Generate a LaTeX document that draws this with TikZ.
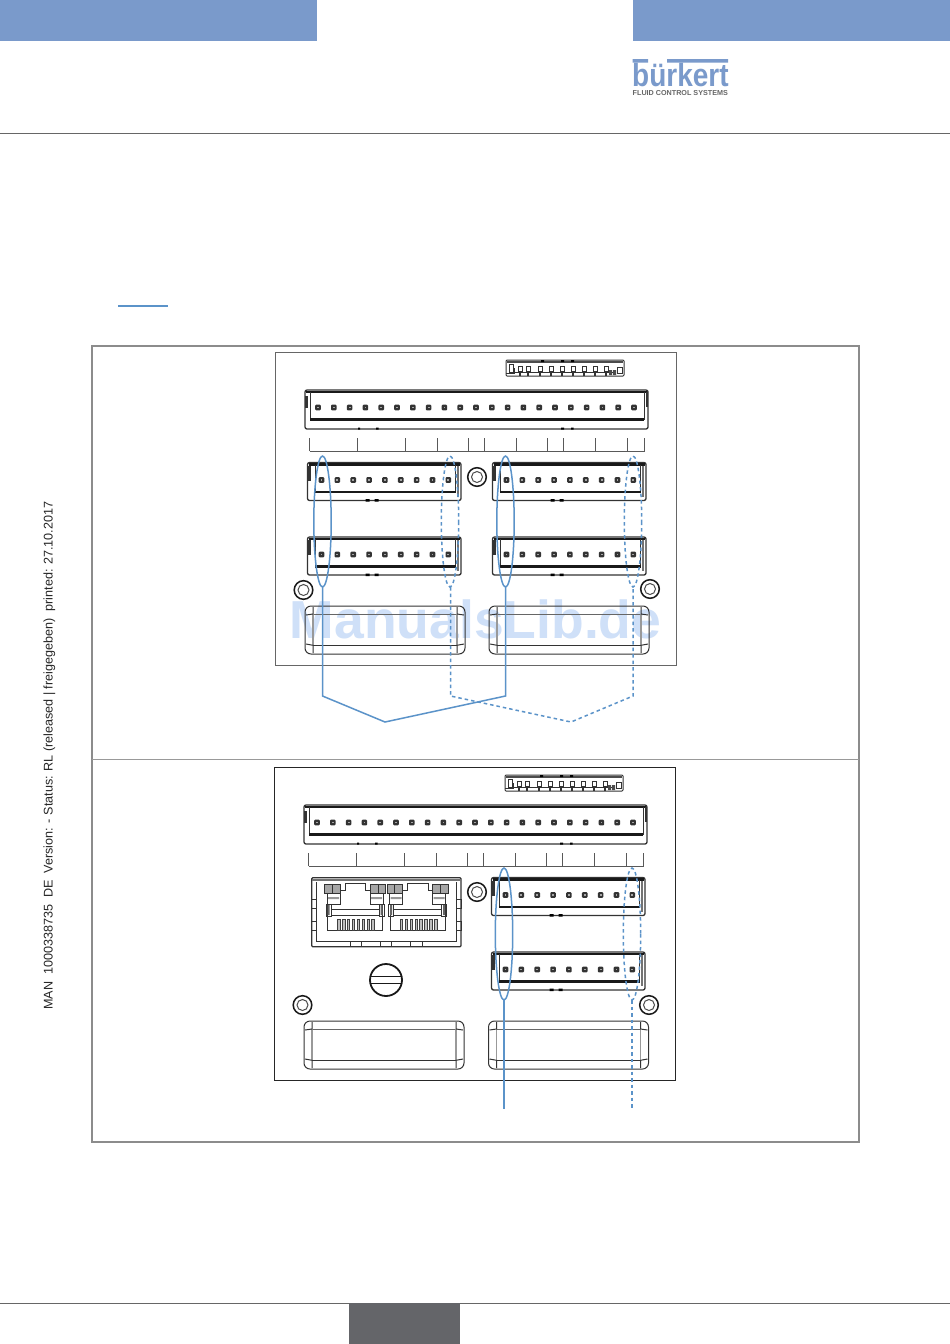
\documentclass[tikz,border=0pt]{standalone}
\usepackage{fontspec}
\setmainfont{Liberation Sans}
\definecolor{headblue}{HTML}{7A9ACB}
\definecolor{linkblue}{HTML}{5B93C9}
\definecolor{markgrey}{HTML}{646569}
\definecolor{wmblue}{HTML}{CFE0F8}
\tikzset{
	part/.style={draw=black!80, line width=1pt},
	heavy/.style={draw=black!90, line width=2.8pt},
	tick/.style={draw=black!65, line width=1pt},
	frameline/.style={draw=black!45, line width=2pt},
	solidline/.style={draw=linkblue, line width=1.5pt},
	dashline/.style={draw=linkblue, line width=1.5pt, dash pattern=on 3.5pt off 3pt},
}
% one pin of a terminal
\newcommand{\pin}[2]{
	\fill[black!80, rounded corners=1pt] (#1-2.8,#2-2.8) rectangle (#1+2.8,#2+2.8);
	\fill[black!35] (#1-0.9,#2-0.9) rectangle (#1+0.9,#2+0.9);
}
% 9-pin terminal, #1 #2 = upper left corner
\newcommand{\smallconn}[2]{
	\begin{scope}[shift={(#1,#2)}]
		\draw[part, line width=1.3pt, rounded corners=2pt] (0,0) rectangle (153.5,38);
		\draw[heavy] (1,2) -- (152.5,2);
		\draw[part] (7.5,2) -- (7.5,29.5) (148,2) -- (148,29.5);
		\draw[heavy, line width=2.4pt] (7.5,29.5) -- (148,29.5);
		\fill[black!80] (0,3) rectangle (3.5,18);
		\draw[draw=black!55, line width=1.4pt] (150.5,3) -- (150.5,34);
		\fill[black] (58,36.5) rectangle (62,39) (67,36.5) rectangle (71,39);
		\foreach \i in {0,...,8} {\pin{14+15.85*\i}{17.5}}
	\end{scope}
}
% socket head screw
\newcommand{\screw}[2]{
	\draw[black!90, line width=1.5pt] (#1,#2) circle (9.3);
	\draw[black!70, line width=1pt] (#1,#2) circle (5.5);
}
% grip below the terminals
\newcommand{\grip}[2]{
	\begin{scope}[shift={(#1,#2)}]
		\draw[part, rounded corners=6pt] (0,0) rectangle (160,48);
		\draw[draw=black!60, line width=1pt] (8,8) -- (152,8);
		\draw[part] (8,39.3) -- (152,39.3);
		\draw[draw=black!40, line width=1.2pt] (8,8) -- (8,39.3) (152,8) -- (152,39.3);
		\draw[part] (8,1) -- (8,8) -- (1,9) (152,1) -- (152,8) -- (159,9);
		\draw[part] (8,47) -- (8,39.3) -- (1,38) (152,47) -- (152,39.3) -- (159,38);
	\end{scope}
}
% dip switch, long terminal and tick row
\newcommand{\toprow}{
	\draw[part, rounded corners=1pt] (506,360) rectangle (624,376);
	\draw[black!70, line width=2.4pt] (507,362) -- (623,362);
	\fill[black] (541,360) rectangle (544,362) (561,360) rectangle (564,362) (571,360) rectangle (574,362);
	\draw[part] (509,364) rectangle (513,372);
	\draw[part] (506,373) -- (514,373) -- (514,368);
	\foreach \x in {520,528,540,551,562,573,584,595,606} {
		\draw[black!80, line width=0.9pt] (\x-2,366) rectangle (\x+2,371);
		\draw[black!80, line width=1.4pt] (\x,371) -- (\x,376);
	}
	\draw[black!80, line width=0.8pt] (514,372) -- (616,372);
	\fill[black!70] (609,370) rectangle (612,375) (613,370) rectangle (616,375);
	\draw[part] (617,367) rectangle (622,373);
	\draw[part, line width=1.3pt, rounded corners=2pt] (305,390) rectangle (648,429);
	\draw[heavy] (306,392) -- (647,392);
	\draw[part] (310,392) -- (310,419.5) (644,392) -- (644,419.5);
	\draw[heavy, line width=2.4pt] (310,419.5) -- (644,419.5);
	\fill[black!80] (305,396) rectangle (307.5,408);
	\fill[black!80] (645.5,392) rectangle (648,407);
	\fill[black] (358,427.5) rectangle (360,429.5) (376,427.5) rectangle (378.5,429.5) (561,427.5) rectangle (564,429.5) (571,427.5) rectangle (573.5,429.5);
	\foreach \i in {0,...,20} {\pin{318+15.8*\i}{407.5}}
	\draw[tick] (309.5,451) -- (644.5,451);
	\foreach \x in {309.5,357.5,405.5,437,468.5,484.5,516.5,547.5,563.5,595.5,627,644.5}
		\draw[tick] (\x,438) -- (\x,451);
}
% one half of the double network socket
\newcommand{\netport}[1]{
	\begin{scope}[shift={(#1,0)}]
		\draw[part] (327.5,904) -- (327.5,930) -- (382.5,930) -- (382.5,904);
		\fill[black!35] (325,884.5) rectangle (340,893) (370,884.5) rectangle (385.5,893);
		\draw[part] (324.5,884.5) rectangle (340,893);
		\draw[part] (370,884.5) rectangle (385.5,893);
		\draw[part] (332,884.5) -- (332,893) (378,884.5) -- (378,893);
		\draw[part] (340,890) -- (345,890) -- (345,883.5) -- (365.5,883.5) -- (365.5,890) -- (370,890);
		\draw[part] (327,893) rectangle (340,904);
		\draw[part] (370,893) rectangle (383,904);
		\fill[black!40] (328,897) rectangle (339,899) (371,897) rectangle (382,899);
		\draw[part] (326,904) rectangle (331,916) (379,904) rectangle (384,916);
		\fill[black!60] (327.5,905) rectangle (329.5,915) (380.5,905) rectangle (382.5,915);
		\draw[part] (331,909.5) -- (379,909.5) (331,915.5) -- (379,915.5);
		\foreach \i in {0,...,7} {
			\draw[black!75, line width=0.8pt, fill=black!25] (337.5+4.9*\i,919) rectangle (340+4.9*\i,930);
		}
	\end{scope}
}
\begin{document}
\begin{tikzpicture}[x=1pt, y=-1pt]
	\useasboundingbox (0,0) rectangle (950,1344);
	\fill[white] (0,0) rectangle (950,1344);

	% page head
	\fill[headblue] (0,0) rectangle (316.5,40.5);
	\fill[headblue] (633,0) rectangle (950,40.5);
	\draw[draw=black!60, line width=1pt] (0,133.5) -- (950,133.5);
	\fill[headblue] (632.5,59) rectangle (648,62.5) (667,59) rectangle (728,62.5);
	\node[text=headblue, anchor=base west, inner sep=0pt, font=\fontsize{28}{28}\selectfont\bfseries] (logotext) at (632,86.5) {\scalebox{1}[1.15]{bürkert}};
	\node[text=black!60, anchor=base west, inner sep=0pt, font=\fontsize{7.2}{8}\selectfont\bfseries] (logosub) at (632.5,95) {FLUID CONTROL SYSTEMS};
	\fill[linkblue] (118,304.5) rectangle (168,306.5);

	% margin text
	\node[rotate=90, anchor=west, inner sep=0pt, text=black!85, font=\fontsize{12.6}{13}\selectfont] (margintext) at (49.5,1010)
		{MAN\ \ 1000338735\ \ DE\ \ Version: - Status: RL (released | freigegeben)\ \ printed: 27.10.2017};

	% page foot
	\draw[draw=black!60, line width=1pt] (0,1303) -- (950,1303);
	\fill[markgrey] (349,1303) rectangle (460,1344);

	% outer frame
	\draw[frameline] (92,345.5) rectangle (859,1141.5);
	\draw[draw=black!40, line width=1pt] (92,759.5) -- (859,759.5);

	\node[text=wmblue, anchor=base, inner sep=0pt, font=\fontsize{53.5}{54}\selectfont\bfseries] (watermark) at (475.5,638) {ManualsLib.de};

	% upper panel
	\draw[draw=black!60, line width=1pt] (275,352) rectangle (676,665.5);
	\toprow
	\smallconn{307.5}{462.5}
	\smallconn{492.5}{462.5}
	\smallconn{307.5}{537}
	\smallconn{492.5}{537}
	\screw{477}{477}
	\screw{303.5}{590}
	\screw{650}{589}
	\grip{305}{606}
	\grip{489}{606}

	\draw[solidline] (322.5,521.5) ellipse (8.7 and 65.5);
	\draw[solidline] (505.5,521.5) ellipse (8.7 and 65.5);
	\draw[dashline] (450,521.5) ellipse (8.7 and 65.5);
	\draw[dashline] (633,521.5) ellipse (8.7 and 65.5);

	\coordinate (upA) at (322.5,587);
	\coordinate (upB) at (505.5,587);
	\coordinate (upC) at (450.5,587);
	\coordinate (upD) at (633,587);
	\coordinate (upE) at (385,722);
	\coordinate (upF) at (571,722);
	\draw[dashline] (upC) -- (450.5,696) -- (upF) -- (633,696) -- (upD);
	\draw[solidline] (upA) -- (322.5,696) -- (upE) -- (505.5,696) -- (upB);

	% lower panel
	\draw[draw=black!85, line width=0.9pt] (274,767) rectangle (675,1080.5);
	\begin{scope}[shift={(-1,415)}]
		\toprow
	\end{scope}
	\smallconn{491.5}{877.5}
	\smallconn{491.5}{952}
	\screw{477}{892}
	\screw{302.5}{1005}
	\screw{649}{1005}
	\grip{304}{1021}
	\grip{488.5}{1021}

	% network socket
	\draw[part, line width=1.2pt, rounded corners=1pt] (311.7,877.7) rectangle (461,946.7);
	\draw[black!55, line width=2.4pt] (312,880) -- (461,880);
	\draw[part] (316.5,882) -- (316.5,941.5) -- (456.5,941.5) -- (456.5,882);
	\draw[part] (311.7,899) rectangle (316.5,908) (311.7,921.5) rectangle (316.5,930);
	\draw[part] (456.5,899) rectangle (461,908) (456.5,921.5) rectangle (461,930);
	\draw[part] (350,941.5) -- (350,946.7) (361,941.5) -- (361,946.7) (350,941.5) -- (362,941.5);
	\draw[part] (380,941.5) -- (380,946.7) (391,941.5) -- (391,946.7) (380,941.5) -- (392,941.5);
	\draw[part] (410,941.5) -- (410,946.7) (422,941.5) -- (422,946.7) (410,941.5) -- (422,941.5);
	\netport{0}
	\netport{62.7}

	% slot screw
	\draw[black!90, line width=1.8pt] (386,980) circle (16);
	\draw[black!90, line width=1.5pt] (370.5,976.5) -- (401.5,976.5);
	\draw[black!90, line width=1.5pt] (370.5,983.5) -- (401.5,983.5);

	\draw[solidline] (504,934) ellipse (8.7 and 66);
	\draw[dashline] (632,934) ellipse (8.7 and 66);
	\coordinate (lowA) at (504,1000);
	\coordinate (lowB) at (632,1000);
	\coordinate (lowC) at (504,1108.5);
	\coordinate (lowD) at (632,1108.5);
	\draw[solidline] (lowA) -- (lowC);
	\draw[dashline] (lowB) -- (lowD);
\end{tikzpicture}
\end{document}
